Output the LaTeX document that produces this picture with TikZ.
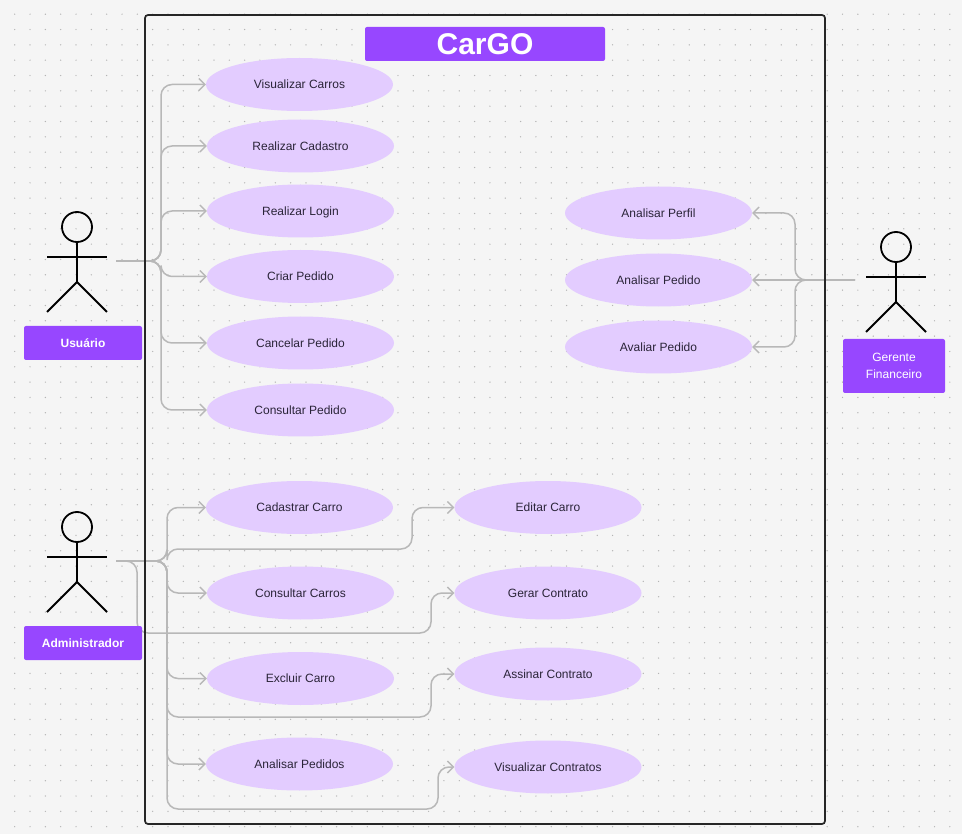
\documentclass[tikz,border=0pt]{standalone}
\usepackage{fontspec}
\setmainfont{Liberation Sans}
\usetikzlibrary{arrows.meta,shapes.geometric}
\definecolor{paper}{HTML}{F5F5F5}
\definecolor{gridgray}{HTML}{B4B4B4}
\definecolor{lilac}{HTML}{E3CCFF}
\definecolor{violet}{HTML}{9747FF}
\definecolor{wire}{HTML}{B8B8B8}
\definecolor{ink}{HTML}{2A2438}
\tikzset{
  case node/.style={ellipse,fill=lilac,minimum width=187pt,minimum height=53pt,inner sep=0pt,text height=9.4pt,text depth=0.8pt,font=\fontsize{12}{14}\selectfont,text=ink},
  tag node/.style={rectangle,rounded corners=2pt,fill=violet,text=white,inner sep=0pt,font=\fontsize{12}{14}\selectfont\bfseries},
  link/.style={draw=wire,line width=1.5pt,rounded corners=11pt,-{Straight Barb[length=6pt,width=12pt,line width=1.4pt]}},
  stickman/.pic={
    \node[circle,draw=black,line width=1.8pt,minimum size=30pt,inner sep=0pt] (-head) at (0,0) {};
    \draw[black,line width=1.8pt] (-head.south) -- (0,55);
    \draw[black,line width=1.8pt] (-30,30) -- (30,30);
    \draw[black,line width=1.8pt] (-30,85) -- (0,55) -- (30,85);
  }
}
\begin{document}
\begin{tikzpicture}[x=1pt,y=-1pt]
  \useasboundingbox[fill=paper] (0,0) rectangle (962,834);

  % dots
  \foreach \i in {0,...,62}
    \foreach \j in {0,...,53}
      \fill[gridgray] ({14.7+15.33*\i},{14.2+15.33*\j}) circle (0.7pt);

  % use cases
  \node[case node] (vcar) at (299.5,84.5) {Visualizar Carros};
  \node[case node] (rcad) at (300.5,146) {Realizar Cadastro};
  \node[case node] (rlog) at (300.5,211) {Realizar Login};
  \node[case node] (cped) at (300.5,276.5) {Criar Pedido};
  \node[case node] (xped) at (300.5,343) {Cancelar Pedido};
  \node[case node] (qped) at (300.5,410) {Consultar Pedido};

  \node[case node] (aper) at (658.5,213) {Analisar Perfil};
  \node[case node] (aped) at (658.5,280) {Analisar Pedido};
  \node[case node] (avped) at (658.5,347) {Avaliar Pedido};

  \node[case node] (ccar) at (299.5,507.5) {Cadastrar Carro};
  \node[case node] (qcar) at (300.5,593) {Consultar Carros};
  \node[case node] (xcar) at (300.5,678.5) {Excluir Carro};
  \node[case node] (apeds) at (299.5,764) {Analisar Pedidos};
  \node[case node] (ecar) at (548,507.5) {Editar Carro};
  \node[case node] (gcon) at (548,593) {Gerar Contrato};
  \node[case node] (scon) at (548,674) {Assinar Contrato};
  \node[case node] (vcon) at (548,767) {Visualizar Contratos};

  % ports and bends
  \coordinate (usr) at (116,261);
  \coordinate (usrbus) at (161,261);
  \coordinate (adm) at (116,561);
  \coordinate (admbus) at (167,561);
  \coordinate (admside) at (137,561);
  \coordinate (editbend) at (412,549);
  \coordinate (gerabend) at (431,633);
  \coordinate (assibend) at (431,717);
  \coordinate (visubend) at (438,809);
  \coordinate (ger) at (855,280);
  \coordinate (gerbus) at (795,280);

  \draw[link] (usr) -- (usrbus) |- (vcar.west);
  \draw[link] (usr) -- (usrbus) |- (rcad.west);
  \draw[link] (usr) -- (usrbus) |- (rlog.west);
  \draw[link] (usr) -- (usrbus) |- (cped.west);
  \draw[link] (usr) -- (usrbus) |- (xped.west);
  \draw[link] (usr) -- (usrbus) |- (qped.west);

  \draw[link] (ger) -- (gerbus) |- (aper.east);
  \draw[link] (ger) -- (aped.east);
  \draw[link] (ger) -- (gerbus) |- (avped.east);

  \draw[link] (adm) -- (admbus) |- (ccar.west);
  \draw[link] (adm) -- (admbus) |- (qcar.west);
  \draw[link] (adm) -- (admbus) |- (xcar.west);
  \draw[link] (adm) -- (admbus) |- (apeds.west);
  \draw[link] (adm) -- (admbus) |- (editbend) |- (ecar.west);
  \draw[link] (adm) -- (admside) |- (gerabend) |- (gcon.west);
  \draw[link] (adm) -- (admbus) |- (assibend) |- (scon.west);
  \draw[link] (adm) -- (admbus) |- (visubend) |- (vcon.west);

  % frame and title
  \node[draw=black!85,line width=1.7pt,rounded corners=3pt,minimum width=680pt,minimum height=809pt,inner sep=0pt] (frame) at (485,419.5) {};
  \node[tag node,minimum width=240pt,minimum height=34pt,font=\fontsize{30}{34}\selectfont\bfseries] (title) at (485,44) {CarGO};

  % actors
  \pic (usuario) at (77,227) {stickman};
  \pic (admin) at (77,527) {stickman};
  \pic (gerente) at (896,247) {stickman};

  \node[tag node,minimum width=118pt,minimum height=34pt] (usuariotag) at (83,343) {Usuário};
  \node[tag node,minimum width=118pt,minimum height=34pt] (admintag) at (83,643) {Administrador};
  \node[tag node,minimum width=102pt,minimum height=54pt,align=center,font=\fontsize{12}{17}\selectfont] (gerentetag) at (894,366) {Gerente\\Financeiro};
\end{tikzpicture}
\end{document}
